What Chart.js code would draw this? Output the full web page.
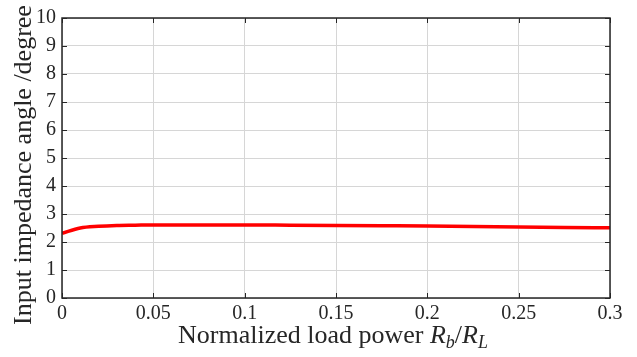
<!DOCTYPE html>
<html>
<head>
<meta charset="utf-8">
<script src="https://cdn.jsdelivr.net/npm/chart.js@4.4.0/dist/chart.umd.min.js"></script>
<style>
  html, body { margin: 0; padding: 0; background: #fff; }
  #wrap { width: 637px; height: 357px; }
</style>
</head>
<body>
<div id="wrap"><canvas id="lineChart"></canvas></div>
<script>
// data
const loadPower = [0, 0.01, 0.02, 0.03, 0.04, 0.05, 0.07, 0.1, 0.125, 0.15, 0.175, 0.2, 0.225, 0.25, 0.275, 0.3];
const impedanceAngle = [2.31, 2.5, 2.56, 2.59, 2.6, 2.61, 2.61, 2.61, 2.6, 2.59, 2.58, 2.57, 2.55, 2.54, 2.52, 2.51];
const xTicks = [0, 0.05, 0.1, 0.15, 0.2, 0.25, 0.3];
const yTicks = [0, 1, 2, 3, 4, 5, 6, 7, 8, 9, 10];

const serif = '"Liberation Serif", "Times New Roman", serif';

// box, inward ticks and axis titles (MATLAB look)
const decor = {
    id: 'decor',
    afterDraw(chart) {
        const { ctx, chartArea: a, scales } = chart;
        ctx.save();
        ctx.strokeStyle = '#262626';
        ctx.lineWidth = 1;
        ctx.beginPath();
        xTicks.forEach(v => {
            const x = Math.round(scales.x.getPixelForValue(v)) + 0.5;
            ctx.moveTo(x, a.bottom); ctx.lineTo(x, a.bottom - 5);
            ctx.moveTo(x, a.top); ctx.lineTo(x, a.top + 5);
        });
        yTicks.forEach(v => {
            const y = Math.round(scales.y.getPixelForValue(v)) + 0.5;
            ctx.moveTo(a.left, y); ctx.lineTo(a.left + 5, y);
            ctx.moveTo(a.right, y); ctx.lineTo(a.right - 5, y);
        });
        ctx.stroke();
        ctx.lineWidth = 1.5;
        ctx.strokeRect(a.left, a.top, a.right - a.left, a.bottom - a.top);

        // y title
        ctx.fillStyle = '#262626';
        ctx.font = '26px ' + serif;
        ctx.translate(31, 165);
        ctx.rotate(-Math.PI / 2);
        ctx.textAlign = 'center';
        ctx.textBaseline = 'alphabetic';
        ctx.fillText('Input impedance angle /degree', 0, 0);
        ctx.setTransform(1, 0, 0, 1, 0, 0);

        // x title with italic R and subscripts
        const parts = [
            { t: 'Normalized load power ', f: '26px ' + serif, dy: 0 },
            { t: 'R', f: 'italic 26px ' + serif, dy: 0 },
            { t: 'b', f: 'italic 18px ' + serif, dy: 5 },
            { t: '/', f: '26px ' + serif, dy: 0 },
            { t: 'R', f: 'italic 26px ' + serif, dy: 0 },
            { t: 'L', f: 'italic 18px ' + serif, dy: 5 }
        ];
        let w = 0;
        parts.forEach(p => { ctx.font = p.f; w += ctx.measureText(p.t).width; });
        let x = 333 - w / 2;
        ctx.textAlign = 'left';
        parts.forEach(p => {
            ctx.font = p.f;
            ctx.fillText(p.t, x, 343 + p.dy);
            x += ctx.measureText(p.t).width;
        });
        ctx.restore();
    }
};

new Chart(document.getElementById('lineChart').getContext('2d'), {
    type: 'line',
    data: {
        datasets: [{
            data: loadPower.map((v, i) => ({ x: v, y: impedanceAngle[i] })),
            borderColor: '#ff0000',
            borderWidth: 3.5,
            pointRadius: 0,
            cubicInterpolationMode: 'monotone',
            fill: false
        }]
    },
    options: {
        responsive: true,
        maintainAspectRatio: false,
        animation: false,
        layout: { padding: { left: 0, right: 27, top: 11, bottom: 0 } },
        plugins: { legend: { display: false }, tooltip: { enabled: false } },
        scales: {
            x: {
                type: 'linear',
                min: 0,
                max: 0.3,
                afterFit: s => { s.height = 59; },
                afterBuildTicks: s => { s.ticks = xTicks.map(v => ({ value: v })); },
                ticks: {
                    color: '#262626',
                    font: { family: serif, size: 20 },
                    padding: 4,
                    maxRotation: 0,
                    callback: v => String(v)
                },
                grid: { color: '#d6d6d6', drawTicks: false },
                border: { display: false }
            },
            y: {
                min: 0,
                max: 10,
                afterFit: s => { s.width = 62; },
                afterBuildTicks: s => { s.ticks = yTicks.map(v => ({ value: v })); },
                ticks: {
                    color: '#262626',
                    font: { family: serif, size: 20 },
                    padding: 6
                },
                grid: { color: '#d6d6d6', drawTicks: false },
                border: { display: false }
            }
        }
    },
    plugins: [decor]
});
</script>
</body>
</html>
